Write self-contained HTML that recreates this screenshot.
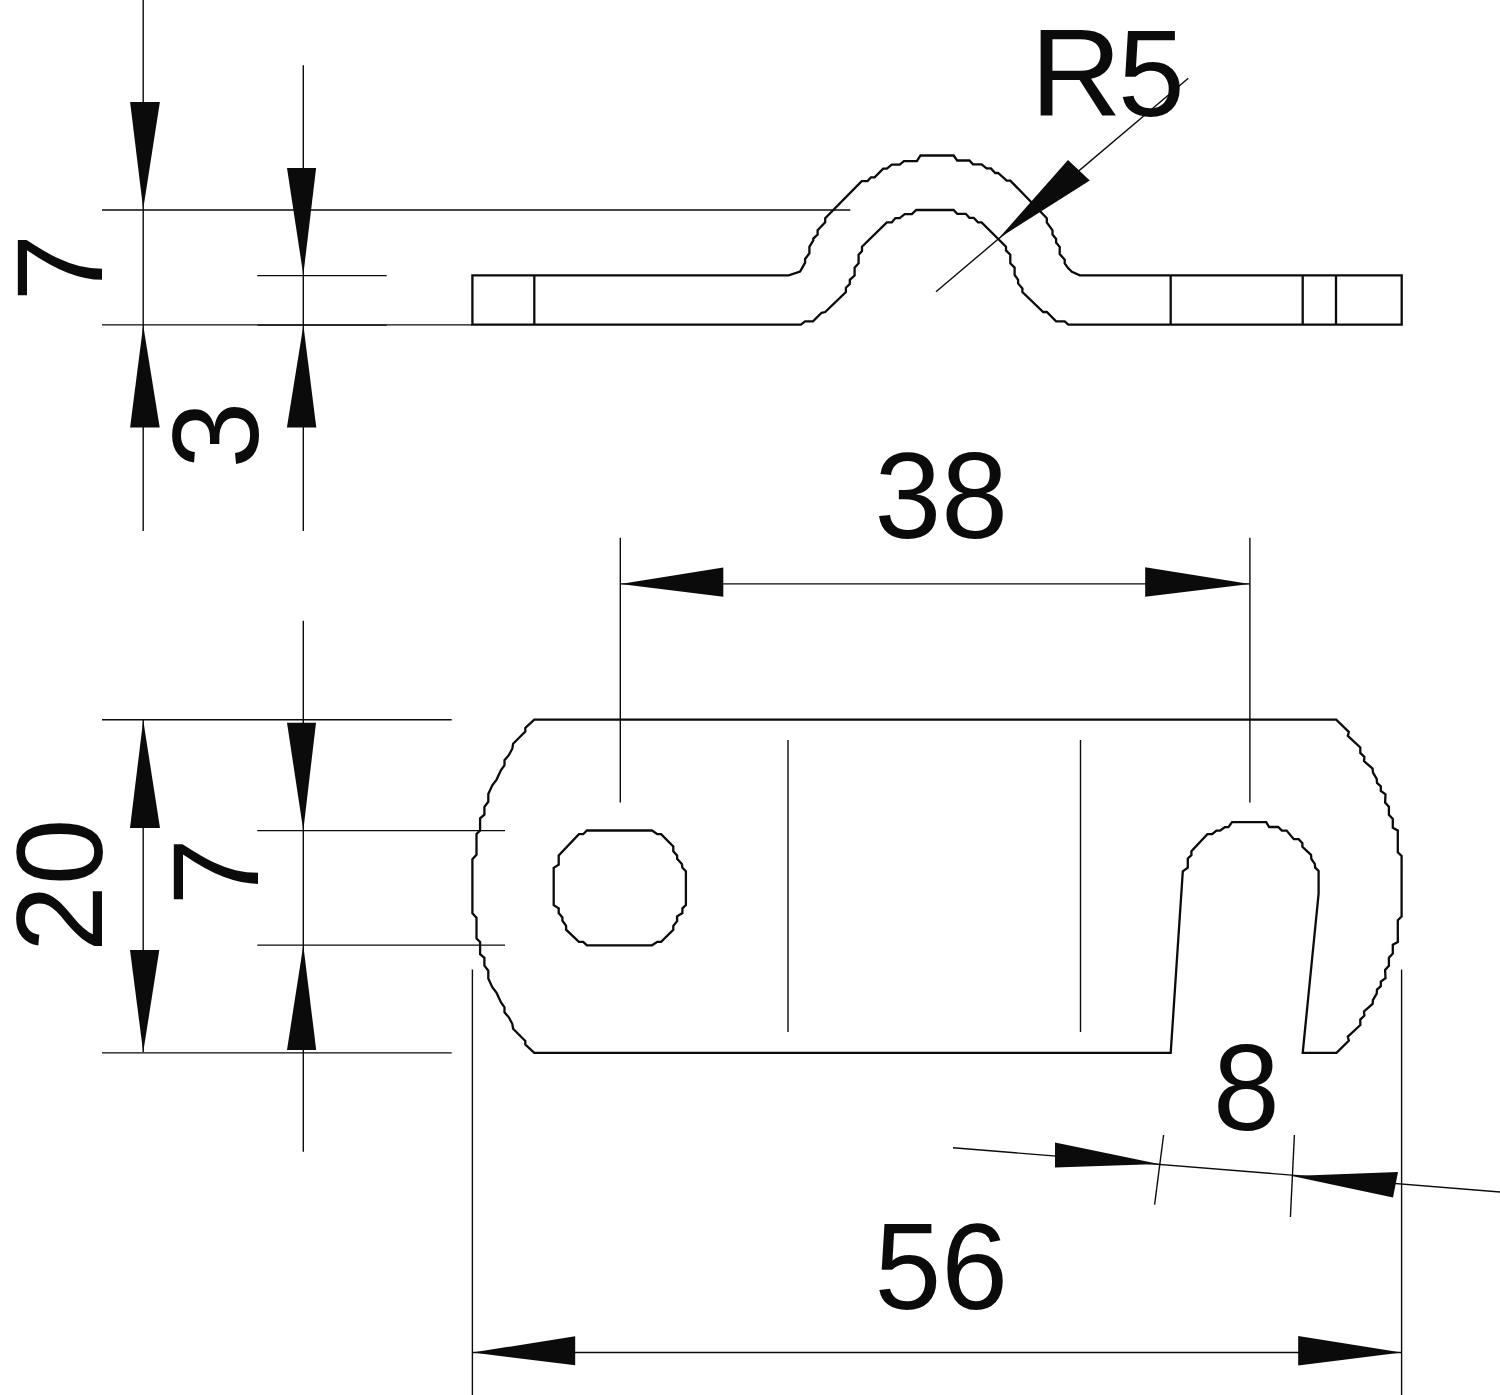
<!DOCTYPE html>
<html><head><meta charset="utf-8"><title>Drawing</title>
<style>
html,body{margin:0;padding:0;background:#fff;}
body{width:1500px;height:1395px;overflow:hidden;}
svg{display:block;}
text{font-family:"Liberation Sans",sans-serif;font-size:120px;fill:#0b0b0b;}
.n{stroke:#0b0b0b;stroke-width:1.4;fill:none;}
.k{stroke:#0b0b0b;stroke-width:2.3;fill:none;stroke-linejoin:miter;}
.a{fill:#0b0b0b;stroke:none;}
</style></head>
<body>
<svg width="1500" height="1395" viewBox="0 0 1500 1395">
<rect width="1500" height="1395" fill="#fff"/>
<g class="n">
<line x1="143.2" y1="0" x2="143.2" y2="531"/>
<line x1="303.3" y1="65.3" x2="303.3" y2="531"/>
<line x1="102" y1="210" x2="850.3" y2="210"/>
<line x1="257.3" y1="275.6" x2="386.7" y2="275.6"/>
<line x1="102" y1="324.9" x2="472" y2="324.9"/>
<line x1="257.5" y1="325.1" x2="386.7" y2="325.1"/>
<line x1="303.3" y1="620.7" x2="303.3" y2="1151.7"/>
<line x1="143.2" y1="720" x2="143.2" y2="1052"/>
<line x1="102" y1="719.7" x2="451.7" y2="719.7"/>
<line x1="102" y1="1052.9" x2="451.7" y2="1052.9"/>
<line x1="257.3" y1="830.6" x2="505" y2="830.6"/>
<line x1="257.3" y1="945.1" x2="505" y2="945.1"/>
<line x1="620.3" y1="537.7" x2="620.3" y2="802.4"/>
<line x1="1249.9" y1="537.7" x2="1249.9" y2="802.4"/>
<line x1="620.3" y1="583.9" x2="1249.9" y2="583.9"/>
<line x1="788" y1="740" x2="788" y2="1032"/>
<line x1="1080.5" y1="740" x2="1080.5" y2="1032"/>
<line x1="472.4" y1="969.5" x2="472.4" y2="1395"/>
<line x1="1401.6" y1="969.5" x2="1401.6" y2="1395"/>
<line x1="472.4" y1="1352.5" x2="1401.6" y2="1352.5"/>
<line x1="953" y1="1147.8" x2="1500" y2="1192"/>
<line x1="1163.6" y1="1135" x2="1154.6" y2="1204.6"/>
<line x1="1294.4" y1="1135" x2="1290.4" y2="1217"/>
<line x1="936" y1="291.7" x2="1188.3" y2="78.3"/>
</g>
<g class="k">
<polygon points="472.4,275.4 788.6,275.4 800.1,271.6 805.1,262.6 805.1,259.0 809.4,253.3 809.4,246.8 813.3,240.4 813.3,238.6 817.6,234.6 817.6,230.3 825.2,222.4 825.2,218.1 861.7,181.1 867.5,181.1 871.0,177.3 874.6,177.3 883.2,168.7 886.8,168.7 891.8,164.7 899.7,164.7 904.0,161.1 916.9,161.1 920.5,155.5 953.6,155.5 957.2,160.5 969.4,160.5 973.0,164.4 981.6,164.4 986.6,168.4 990.9,168.4 995.2,173.0 998.1,173.0 1006.7,180.6 1010.3,180.6 1046.8,218.1 1046.8,222.4 1052.5,230.3 1052.5,234.6 1056.1,238.9 1056.1,242.5 1059.7,246.8 1059.7,254.0 1064.7,259.7 1064.7,263.3 1068.3,268.3 1071.9,271.9 1079.8,275.4 1401.7,275.4 1401.7,324.6 1068.3,324.6 1064.7,321.4 1056.1,321.4 1046.8,312.0 1043.2,312.0 1022.4,292.0 1022.4,288.4 1018.1,283.4 1018.1,279.8 1014.6,274.8 1014.6,267.6 1010.3,263.3 1010.3,254.7 1006.0,250.4 1006.0,246.8 981.6,222.4 978.0,222.4 973.7,217.8 969.4,217.8 965.8,213.8 957.2,213.8 953.6,210.0 916.2,210.0 911.9,214.1 904.7,214.1 899.7,218.1 895.4,218.1 891.8,222.4 886.8,222.4 862.0,246.8 862.0,251.1 858.6,254.7 858.6,263.3 854.6,267.6 854.6,275.5 849.8,279.8 849.8,284.1 845.9,287.7 845.9,292.0 825.2,312.0 821.6,312.8 813.0,321.4 805.1,321.4 800.8,324.6 472.4,324.6"/>
<polygon points="534.3,719.6 525.3,728.0 525.3,731.5 513.1,743.7 512.3,748.7 508.8,755.2 504.5,760.2 504.5,765.2 500.9,770.3 496.6,779.6 492.3,785.3 488.3,793.9 488.3,801.8 484.4,806.8 484.4,814.7 480.1,818.3 480.1,830.5 476.5,834.0 476.5,854.8 472.4,859.1 472.4,913.4 476.5,917.7 476.5,938.5 480.1,942.0 480.1,954.2 484.4,957.8 484.4,965.7 488.3,970.7 488.3,978.6 492.3,987.2 496.6,992.9 500.9,1002.2 504.5,1007.3 504.5,1012.3 508.8,1017.3 512.3,1023.8 513.1,1028.8 525.3,1041.0 525.3,1044.5 534.3,1052.9 1170.7,1052.9 1182.8,871.4 1187.8,867.6 1187.8,858.4 1191.4,855.2 1191.4,851.2 1207.4,834.2 1212.2,834.2 1216.4,830.6 1220.0,830.6 1224.8,827.2 1228.4,827.2 1232.0,822.2 1266.2,822.2 1269.2,827.0 1278.2,827.0 1281.8,830.6 1286.6,830.6 1293.8,839.2 1298.6,839.2 1302.4,843.2 1302.4,846.8 1311.0,854.8 1311.4,859.0 1314.8,863.8 1315.2,867.6 1318.6,871.0 1318.6,893.8 1302.7,1052.9 1336.5,1052.9 1348.8,1040.7 1347.8,1036.6 1360.3,1025.0 1360.3,1019.6 1364.4,1015.5 1364.0,1011.4 1372.6,1003.9 1373.0,999.8 1376.7,993.7 1377.0,989.6 1380.8,986.2 1380.8,981.5 1385.5,978.1 1385.1,969.9 1388.9,965.8 1388.9,957.6 1392.8,953.5 1392.8,944.7 1397.8,942.0 1397.8,920.2 1401.6,916.5 1401.6,856.0 1397.8,852.3 1397.8,830.5 1392.8,827.8 1392.8,819.0 1388.9,814.9 1388.9,806.7 1385.1,802.6 1385.5,794.4 1380.8,791.0 1380.8,786.3 1377.0,782.9 1376.7,778.8 1373.0,772.7 1372.6,768.6 1364.0,761.1 1364.4,757.0 1360.3,752.9 1360.3,747.5 1347.8,735.9 1348.8,731.8 1336.2,719.6"/>
<polygon points="586.9,830.5 652.0,830.5 657.3,834.2 661.1,834.2 673.3,846.5 673.3,851.3 677.1,855.5 677.1,858.7 681.9,864.1 682.4,867.8 685.9,871.2 685.9,905.1 682.4,908.3 682.4,913.1 677.1,916.3 677.1,921.1 673.3,925.9 673.3,929.7 661.1,941.9 657.3,941.9 652.0,945.3 586.9,945.3 583.2,941.9 578.9,941.9 566.1,929.7 566.1,925.9 562.4,920.6 562.4,917.4 558.7,913.1 558.7,908.3 553.7,905.1 553.7,867.8 558.7,864.6 558.7,855.5 578.9,834.2 583.2,834.2"/>
<line x1="534.3" y1="275.4" x2="534.3" y2="324.6"/>
<line x1="1170.7" y1="275.4" x2="1170.7" y2="324.6"/>
<line x1="1302.7" y1="275.4" x2="1302.7" y2="324.6"/>
<line x1="1336" y1="275.4" x2="1336" y2="324.6"/>
</g>
<g class="a">
<polygon points="130.1,102.0 159.9,102.0 143.2,209.0"/>
<polygon points="287.0,168.0 316.1,168.0 303.3,275.0"/>
<polygon points="143.2,325.2 130.1,427.6 159.7,427.6"/>
<polygon points="303.4,325.2 286.9,427.6 316.3,427.6"/>
<polygon points="143.2,720.0 130.0,828.1 160.0,828.1"/>
<polygon points="130.0,950.0 159.3,950.0 143.2,1052.3"/>
<polygon points="287.0,722.7 316.0,722.7 303.3,830.5"/>
<polygon points="303.3,945.2 287.0,1050.0 316.2,1050.0"/>
<polygon points="620.3,583.9 723.3,567.5 723.3,596.8"/>
<polygon points="1249.9,583.9 1145.2,567.2 1145.2,596.8"/>
<polygon points="472.4,1352.5 575.2,1336.3 575.2,1365.3"/>
<polygon points="1401.6,1352.5 1298.2,1336.0 1298.2,1365.4"/>
<polygon points="1055.0,1142.4 1055.0,1167.6 1159.0,1164.0"/>
<polygon points="1292.0,1176.0 1398.0,1172.0 1393.0,1197.6"/>
<polygon points="998.8,238.2 1068.0,160.1 1089.8,180.6"/>
</g>
<g>
<text transform="translate(1030.2,115.8) scale(1.056,1.035)">R</text>
<text transform="translate(1118.1,115.7) scale(1.0,1.018)">5</text>
<text transform="translate(874.4,537.8) scale(1,1.02)">38</text>
<text transform="translate(874.4,1308.8) scale(1,1.02)">56</text>
<text transform="translate(1213,1130.3) scale(1,1.02)">8</text>
<text transform="translate(102,301.4) rotate(-90) scale(1.015,1.02)">7</text>
<text transform="translate(258.1,468.6) rotate(-90) scale(1,1.02)">3</text>
<text transform="translate(101.5,952) rotate(-90) scale(1,1.02)">20</text>
<text transform="translate(258,905.4) rotate(-90) scale(1.01,1.02)">7</text>
</g>
</svg>
</body></html>
